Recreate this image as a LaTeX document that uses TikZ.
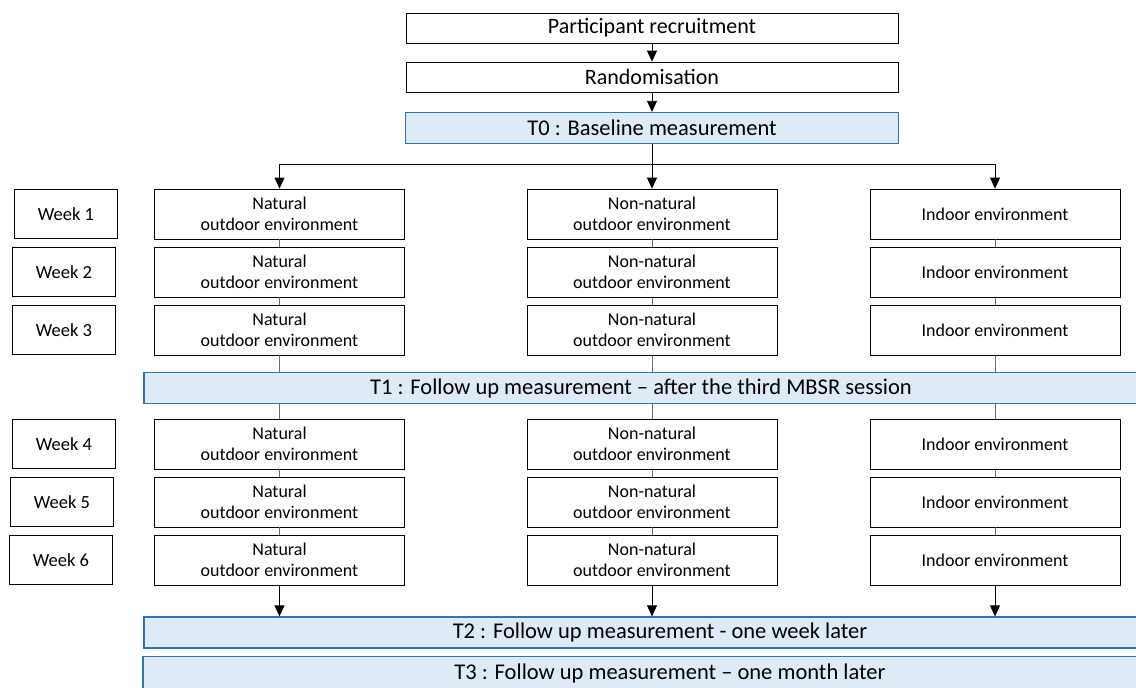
\documentclass[tikz,border=0pt]{standalone}
\usepackage{fontspec}
\setmainfont{Carlito}
\usepackage{xcolor}
\usetikzlibrary{positioning,arrows.meta}

\definecolor{measfill}{RGB}{222,235,247}
\definecolor{measline}{RGB}{46,117,182}
\definecolor{linkgray}{RGB}{110,110,110}

\tikzset{
  stagebox/.style={draw,line width=0.8pt,inner sep=0pt,minimum width=492pt,minimum height=30pt,font=\fontsize{22}{24}\selectfont},
  envbox/.style={draw,line width=0.8pt,inner sep=0pt,minimum width=250pt,minimum height=50pt,align=center,font=\fontsize{18}{21}\selectfont},
  weekbox/.style={draw,line width=0.8pt,inner sep=0pt,minimum width=103pt,minimum height=49pt,font=\fontsize{18.5}{20}\selectfont},
  measbox/.style={draw=measline,fill=measfill,line width=1.3pt,inner sep=0pt,minimum height=31pt,font=\fontsize{22.5}{24}\selectfont},
  link/.style={linkgray,line width=0.8pt},
}

\begin{document}
\begin{tikzpicture}[x=1pt,y=-1pt,>={Triangle[length=11pt,width=10pt]}]
  \useasboundingbox (0,0) rectangle (1136,688);
  % recruitment and baseline
  \node[stagebox] (recruit) at (652,28) {Participant recruitment};
  \node[stagebox] (random) at (652,77) {Randomisation};
  \node[measbox,minimum width=493pt] (tzero) at (652,128) {T0 : Baseline measurement};
  \draw[->,line width=0.8pt] (recruit) -- (random);
  \draw[->,line width=0.8pt] (random) -- (tzero);

  % measurement bands
  \node[measbox,minimum width=994pt] (tone) at (641,388) {T1 : Follow up measurement -- after the third MBSR session};
  \node[measbox,minimum width=1032pt] (ttwo) at (660,632.5) {T2 : Follow up measurement - one week later};
  \node[measbox,minimum width=1054pt,minimum height=33pt] (tthree) at (670,673) {T3 : Follow up measurement -- one month later};

  % weeks and sessions
  \foreach \i/\y/\wx in {1/214/66,2/272/64,3/330/64,4/444/64,5/502/62,6/560/61}{
    \node[weekbox] (wk\i) at (\wx,\y) {Week \i};
    \node[envbox] (nat\i) at (279.5,\y) {Natural\\outdoor environment};
    \node[envbox] (non\i) at (652,\y) {Non-natural\\outdoor environment};
    \node[envbox] (ind\i) at (995,\y) {Indoor environment};
  }

  % randomised split
  \coordinate (split) at (652,164);
  \draw[line width=0.8pt] (tzero) -- (split);
  \draw[->,line width=0.8pt] (split) -| (nat1);
  \draw[->,line width=0.8pt] (split) -- (non1);
  \draw[->,line width=0.8pt] (split) -| (ind1);

  % links between sessions
  \foreach \c in {nat,non,ind}{
    \draw[link] (\c1) -- (\c2);
    \draw[link] (\c2) -- (\c3);
    \draw[link] (\c3) -- (\c3.south |- tone.north);
    \draw[link] (\c4.north |- tone.south) -- (\c4);
    \draw[link] (\c4) -- (\c5);
    \draw[link] (\c5) -- (\c6);
    \draw[link,-{Triangle[length=11pt,width=10pt]},black] (\c6) -- (\c6.south |- ttwo.north);
  }
\end{tikzpicture}
\end{document}
